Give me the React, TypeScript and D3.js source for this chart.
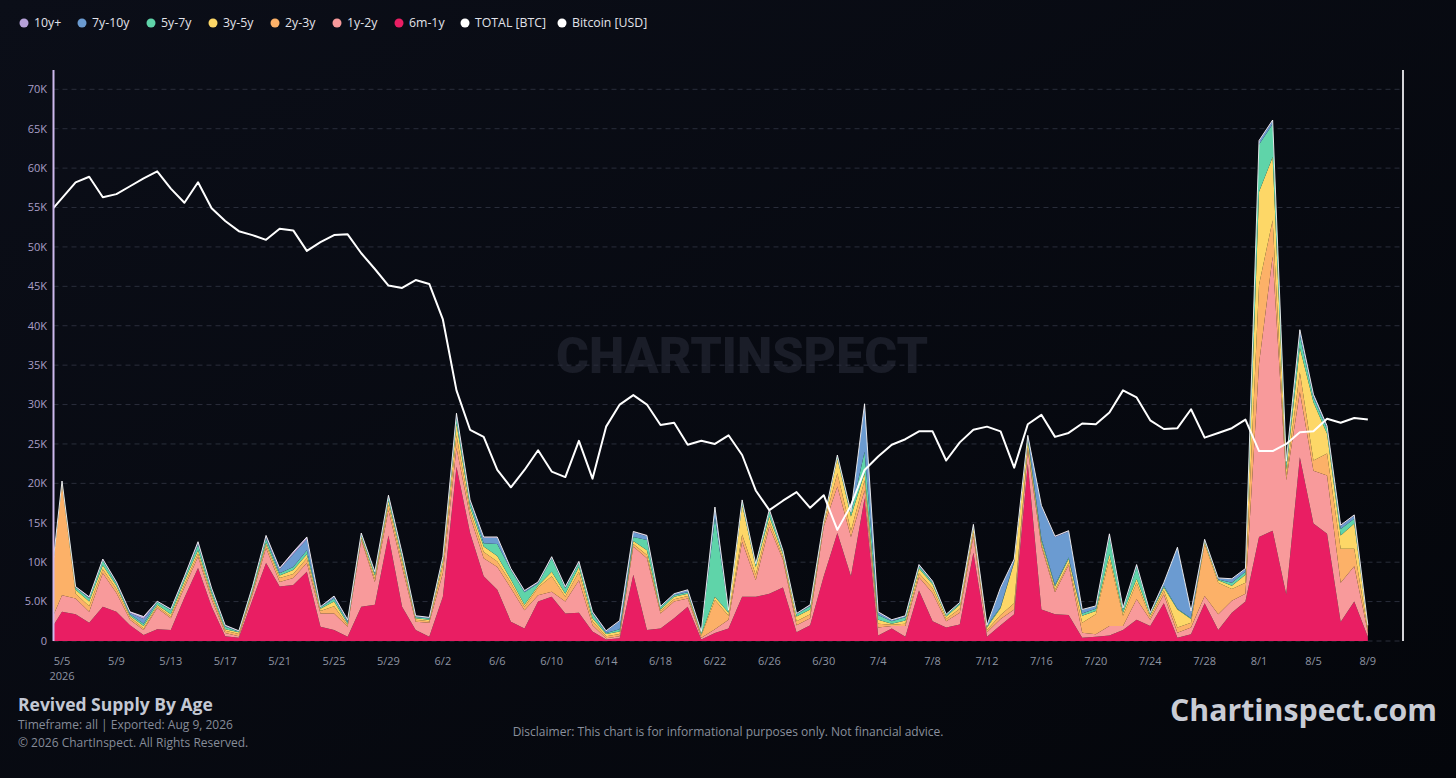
import * as d3 from 'd3';

// Revived supply per age band, thousands of BTC, one value per day starting 5/4/2026
const sixMonthToOneYear = [
  1.0, 3.7, 3.4, 2.3, 4.35, 3.7, 2.0, 0.76, 1.5, 1.4,
  5.5, 9.25, 4.35, 0.6, 0.4, 5.2, 9.9, 6.9, 7.1, 8.8,
  1.8, 1.4, 0.55, 4.35, 4.6, 13.4, 4.35, 1.4, 0.55, 5.6,
  22.1, 13.7, 8.2, 6.5, 2.45, 1.6, 5.0, 5.6, 3.5, 3.6,
  1.2, 0.2, 0.35, 8.4, 1.4, 1.6, 2.9, 4.35, 0.2, 1.0,
  1.6, 5.6, 5.6, 6.0, 6.8, 1.1, 2.0, 8.2, 13.7, 8.2,
  18.1, 0.7, 1.6, 0.55, 6.4, 2.5, 1.7, 2.1, 11.2, 0.55,
  2.0, 3.4, 22.5, 4.0, 3.4, 3.3, 0.4, 0.55, 0.7, 1.4,
  2.7, 1.9, 4.8, 0.4, 0.85, 4.8, 1.4, 3.6, 5.0, 13.2,
  14.0, 5.9, 23.3, 14.9, 13.6, 2.4, 5.0, 0.5,
];
const oneToTwoYears = [
  0.8, 2.1, 2.0, 1.4, 4.25, 2.4, 0.7, 0.64, 2.7, 1.5,
  1.3, 1.45, 0.95, 0.4, 0.2, 0.7, 1.9, 0.6, 0.9, 1.1,
  1.7, 2.1, 1.25, 8.45, 2.9, 3.2, 5.05, 1.05, 1.75, 3.0,
  2.4, 2.1, 2.3, 2.9, 4.25, 2.3, 0.8, 0.65, 1.5, 4.1,
  0.8, 0.15, 0.25, 3.6, 9.1, 1.9, 2.1, 1.05, 0.2, 0.5,
  1.1, 7.0, 2.1, 8.5, 3.5, 0.9, 0.9, 6.3, 5.9, 5.0,
  1.0, 1.0, 0.3, 1.35, 1.7, 3.6, 0.8, 1.5, 2.1, 0.55,
  0.8, 0.6, 1.7, 8.0, 2.8, 6.3, 0.65, 0.3, 1.2, 0.5,
  2.6, 0.8, 1.1, 0.65, 0.85, 0.9, 2.0, 1.5, 1.0, 22.0,
  34.8, 14.5, 8.3, 6.7, 7.4, 5.0, 4.5, 0.6,
];
const twoToThreeYears = [
  2.5, 14.0, 0.6, 0.7, 0.5, 0.5, 0.3, 0.2, 0.2, 0.2,
  0.4, 0.4, 0.4, 0.3, 0.3, 0.3, 0.4, 0.5, 0.5, 0.6,
  0.3, 0.9, 0.2, 0.2, 0.4, 0.7, 0.6, 0.25, 0.2, 1.0,
  1.6, 0.7, 0.8, 0.7, 0.7, 0.4, 1.0, 1.95, 0.6, 1.1,
  0.5, 0.25, 0.3, 0.3, 0.4, 0.3, 0.3, 0.3, 0.3, 3.7,
  0.5, 0.9, 0.7, 0.7, 0.3, 0.5, 0.5, 0.3, 1.7, 0.8,
  1.3, 0.5, 0.15, 0.3, 0.5, 0.6, 0.3, 0.5, 0.5, 0.3,
  0.5, 0.8, 0.4, 0.3, 0.3, 0.3, 1.25, 2.55, 8.5, 1.3,
  2.1, 0.3, 0.5, 0.65, 0.6, 6.6, 4.0, 1.5, 1.4, 10.0,
  4.6, 0.5, 2.5, 1.3, 2.8, 4.3, 2.2, 0.3,
];
const threeToFiveYears = [
  0.1, 0.2, 0.5, 0.6, 0.5, 0.4, 0.2, 0.3, 0.2, 0.3,
  0.4, 0.4, 0.3, 0.2, 0.2, 0.2, 0.3, 0.3, 0.5, 0.5,
  0.3, 0.6, 0.2, 0.3, 0.4, 0.5, 0.5, 0.2, 0.2, 0.6,
  1.5, 0.5, 0.7, 0.7, 0.4, 0.3, 0.2, 0.6, 0.4, 0.6,
  0.4, 0.3, 0.3, 0.4, 0.6, 0.2, 0.3, 0.3, 0.2, 0.4,
  0.4, 3.8, 1.0, 0.6, 0.4, 0.6, 0.6, 0.2, 1.9, 1.8,
  0.9, 0.5, 0.15, 0.4, 0.6, 0.5, 0.3, 0.5, 0.6, 0.3,
  0.9, 5.2, 0.8, 0.4, 0.4, 0.5, 0.9, 0.4, 0.6, 0.4,
  0.5, 0.3, 0.4, 2.3, 0.5, 0.3, 0.3, 0.4, 1.0, 11.8,
  8.0, 0.8, 3.1, 7.4, 2.5, 1.7, 3.2, 0.4,
];
const fiveToSevenYears = [
  0.1, 0.15, 0.3, 0.4, 0.6, 0.3, 0.2, 0.3, 0.35, 0.5,
  0.4, 0.7, 0.4, 0.3, 0.1, 0.4, 0.5, 0.3, 0.4, 0.5,
  0.15, 0.4, 0.2, 0.2, 0.3, 0.4, 0.4, 0.15, 0.15, 0.3,
  0.7, 0.6, 0.4, 1.5, 1.2, 1.6, 0.3, 1.7, 0.7, 0.5,
  0.6, 0.1, 0.3, 0.5, 1.3, 0.3, 0.2, 0.2, 0.2, 10.0,
  0.2, 0.4, 0.3, 0.7, 0.3, 0.3, 0.4, 0.2, 0.25, 0.4,
  2.7, 0.6, 0.3, 0.4, 0.3, 0.25, 0.2, 0.2, 0.2, 0.2,
  0.1, 0.1, 0.4, 0.3, 0.2, 0.2, 0.3, 0.3, 2.2, 0.4,
  1.5, 0.2, 0.2, 0.1, 0.1, 0.15, 0.1, 0.4, 0.4, 6.0,
  4.2, 0.8, 1.5, 0.6, 0.6, 0.8, 0.6, 0.1,
];
const sevenToTenYears = [
  0.05, 0.05, 0.05, 0.1, 0.1, 0.1, 0.15, 0.6, 0.05, 0.1,
  0.1, 0.2, 0.2, 0.1, 0.05, 0.05, 0.2, 0.5, 1.6, 1.4,
  0.05, 0.2, 0.2, 0.1, 0.1, 0.2, 0.2, 0.1, 0.1, 0.1,
  0.4, 0.2, 0.7, 0.8, 0.1, 0.1, 0.1, 0.1, 0.1, 0.1,
  0.1, 0.25, 1.05, 0.6, 0.5, 0.05, 0.15, 0.25, 0.05, 1.3,
  0.05, 0.1, 0.05, 0.1, 0.1, 0.05, 0.1, 0.05, 0.1, 0.1,
  5.9, 0.3, 0.15, 0.15, 0.1, 0.1, 0.05, 0.05, 0.1, 0.05,
  2.4, 0.25, 0.2, 4.1, 6.1, 3.3, 0.45, 0.3, 0.3, 0.15,
  0.25, 0.05, 0.35, 7.75, 0.85, 0.1, 0.15, 0.45, 0.35, 0.4,
  0.4, 0.2, 0.7, 0.3, 0.3, 0.4, 0.4, 0.05,
];
const tenYearsPlus = [
  0.05, 0.1, 0.05, 0.1, 0.1, 0.1, 0.15, 0.3, 0.05, 0.05,
  0.1, 0.2, 0.1, 0.1, 0.05, 0.05, 0.2, 0.15, 0.3, 0.3,
  0.05, 0.1, 0.1, 0.1, 0.1, 0.1, 0.1, 0.05, 0.05, 0.1,
  0.2, 0.1, 0.1, 0.1, 0.1, 0.1, 0.1, 0.1, 0.1, 0.1,
  0.1, 0.05, 0.05, 0.1, 0.1, 0.05, 0.05, 0.05, 0.05, 0.1,
  0.05, 0.1, 0.05, 0.1, 0.1, 0.05, 0.1, 0.05, 0.05, 0.1,
  0.2, 0.1, 0.05, 0.05, 0.1, 0.05, 0.05, 0.05, 0.1, 0.05,
  0.1, 0.05, 0.1, 0.1, 0.1, 0.1, 0.05, 0.05, 0.1, 0.05,
  0.05, 0.05, 0.05, 0.05, 0.05, 0.05, 0.05, 0.05, 0.05, 0.1,
  0.1, 0.1, 0.1, 0.1, 0.1, 0.1, 0.1, 0.05,
];
// Bitcoin price, thousands of USD
const bitcoinPrice = [
  54.2, 56.2, 58.2, 58.9, 56.3, 56.7, 57.7, 58.7, 59.6, 57.4,
  55.6, 58.2, 54.9, 53.3, 52.0, 51.5, 50.9, 52.3, 52.1, 49.5,
  50.6, 51.5, 51.6, 49.2, 47.2, 45.1, 44.8, 45.8, 45.3, 40.8,
  31.8, 26.8, 25.9, 21.7, 19.5, 21.7, 24.2, 21.5, 20.8, 25.4,
  20.6, 27.2, 30.0, 31.2, 30.0, 27.4, 27.7, 24.9, 25.4, 25.0,
  26.1, 23.6, 19.1, 16.6, 17.8, 18.9, 16.9, 18.5, 14.1, 17.2,
  21.7, 23.4, 24.9, 25.6, 26.6, 26.6, 22.9, 25.2, 26.8, 27.2,
  26.6, 22.0, 27.5, 28.7, 25.9, 26.4, 27.6, 27.5, 29.0, 31.8,
  30.9, 28.0, 26.9, 27.0, 29.4, 25.8, 26.4, 27.0, 28.1, 24.1,
  24.1, 25.0, 26.5, 26.6, 28.2, 27.7, 28.3, 28.1,
];

const ageBands = ['6m-1y', '1y-2y', '2y-3y', '3y-5y', '5y-7y', '7y-10y', '10y+'];
const bandValues = [
  sixMonthToOneYear, oneToTwoYears, twoToThreeYears, threeToFiveYears,
  fiveToSevenYears, sevenToTenYears, tenYearsPlus,
];
const bandColors = ['#e91e63', '#f89a9b', '#fcb168', '#fdd767', '#5fd4a9', '#6b9bd1', '#b7a2d9'];

const legendNames = ['10y+', '7y-10y', '5y-7y', '3y-5y', '2y-3y', '1y-2y', '6m-1y', 'TOTAL [BTC]', 'Bitcoin [USD]'];
const legendColors = ['#b7a2d9', '#6b9bd1', '#5fd4a9', '#fdd767', '#fcb168', '#f89a9b', '#e91e63', '#ffffff', '#ffffff'];
const legendX = [24, 82, 151, 213, 275, 337, 399, 465, 562];

const yTicks = [0, 5, 10, 15, 20, 25, 30, 35, 40, 45, 50, 55, 60, 65, 70];
const firstDay = new Date(2026, 4, 4);

const W = 1456;
const H = 778;
const plot = { left: 53.5, right: 1403, top: 70, bottom: 641 };
const font = '"Segoe UI", "Open Sans", "Noto Sans", sans-serif';

const App = () => {
  const dates = d3.timeDay.range(firstDay, d3.timeDay.offset(firstDay, sixMonthToOneYear.length));
  const rows = dates.map((date, i) => {
    const row: Record<string, any> = { date };
    ageBands.forEach((band, k) => { row[band] = bandValues[k][i]; });
    return row;
  });

  const x = d3.scaleTime()
    .domain([d3.timeHour.offset(new Date(2026, 4, 5), -15), d3.timeHour.offset(new Date(2026, 7, 9), 62)])
    .range([plot.left, plot.right]);
  const y = d3.scaleLinear().domain([0, 72.45]).range([plot.bottom, plot.top]);

  const layers = d3.stack<any>().keys(ageBands)(rows);
  const area = d3.area<any>()
    .x(d => x(d.data.date))
    .y0(d => y(d[0]))
    .y1(d => y(d[1]));
  const top = layers[layers.length - 1];
  const totalLine = d3.line<any>().x(d => x(d.data.date)).y(d => y(d[1]));
  const priceLine = d3.line<number>().x((_, i) => x(dates[i])).y(d => y(d));

  const xTicks = d3.timeDay.range(new Date(2026, 4, 5), new Date(2026, 7, 10), 4);
  const fmtDay = d3.timeFormat('%-m/%-d');
  const fmtY = (v: number) => (v === 0 ? '0' : v < 10 ? `${v.toFixed(1)}K` : `${v}K`);

  return (
    <div>
      <style>{'body{margin:0;background:#06080f;}'}</style>
      <svg width={W} height={H} style={{ display: 'block', fontFamily: font }}>
        <defs>
          <linearGradient id="bg" x1="0" y1="0" x2="1" y2="1">
            <stop offset="0%" stopColor="#0b0e18" />
            <stop offset="100%" stopColor="#04060b" />
          </linearGradient>
          <clipPath id="plotClip">
            <rect x={plot.left} y={0} width={plot.right - plot.left} height={plot.bottom + 1} />
          </clipPath>
        </defs>
        <rect width={W} height={H} fill="url(#bg)" />

        {/* legend */}
        {legendNames.map((name, i) => (
          <g key={name} transform={`translate(${legendX[i]},23)`}>
            <circle r={4.5} fill={legendColors[i]} />
            <text x={10} dy="0.35em" fontSize={12.3} fill="#e2e3ea">{name}</text>
          </g>
        ))}

        {/* watermark */}
        <text x={742} y={373} textAnchor="middle" fontSize={50} fontWeight={900}
          fill="#1a1d28" textLength={372} lengthAdjust="spacingAndGlyphs"
          fontFamily='Roboto, "Noto Sans", sans-serif'>CHARTINSPECT</text>

        {/* grid */}
        {yTicks.map(t => (
          <line key={t} x1={plot.left} x2={plot.right} y1={y(t)} y2={y(t)}
            stroke="#2a2e3b" strokeDasharray="5,4" strokeWidth={1} />
        ))}

        {/* stacked areas */}
        <g clipPath="url(#plotClip)">
          {layers.map((layer, i) => (
            <path key={layer.key} d={area(layer) || ''} fill={bandColors[i]} />
          ))}
          <path d={totalLine(top) || ''} fill="none" stroke="#ffffff" strokeWidth={1} strokeOpacity={0.85} />
          <path d={priceLine(bitcoinPrice) || ''} fill="none" stroke="#ffffff" strokeWidth={2} strokeLinejoin="round" />
        </g>

        {/* axes lines */}
        <line x1={plot.left} x2={plot.left} y1={plot.top} y2={plot.bottom} stroke="#cdb9ee" strokeWidth={2} />
        <line x1={plot.right} x2={plot.right} y1={plot.top} y2={plot.bottom} stroke="#d4d4d8" strokeWidth={2} />

        {/* y ticks */}
        {yTicks.map(t => (
          <text key={t} x={47} y={y(t)} dy="0.35em" textAnchor="end" fontSize={11} fill="#a99ec6">{fmtY(t)}</text>
        ))}

        {/* x ticks */}
        {xTicks.map((d, i) => (
          <g key={i}>
            <text x={x(d)} y={665} textAnchor="middle" fontSize={11} fill="#8e94a2">{fmtDay(d)}</text>
            {i === 0 && <text x={x(d)} y={680} textAnchor="middle" fontSize={11} fill="#8e94a2">2026</text>}
          </g>
        ))}

        {/* footer */}
        <text x={18} y={711} fontSize={17.5} fontWeight={700} fill="#c3c8d4">Revived Supply By Age</text>
        <text x={18} y={729} fontSize={12} fill="#868c99">Timeframe: all | Exported: Aug 9, 2026</text>
        <text x={18} y={747} fontSize={12} fill="#868c99">© 2026 ChartInspect. All Rights Reserved.</text>
        <text x={728} y={736} textAnchor="middle" fontSize={12} fill="#8a909d">
          Disclaimer: This chart is for informational purposes only. Not financial advice.
        </text>
        <text x={1170} y={721} fontSize={30} fontWeight={700} fill="#c9ccd5"
          textLength={267} lengthAdjust="spacingAndGlyphs">Chartinspect.com</text>
      </svg>
    </div>
  );
};

export default App;
